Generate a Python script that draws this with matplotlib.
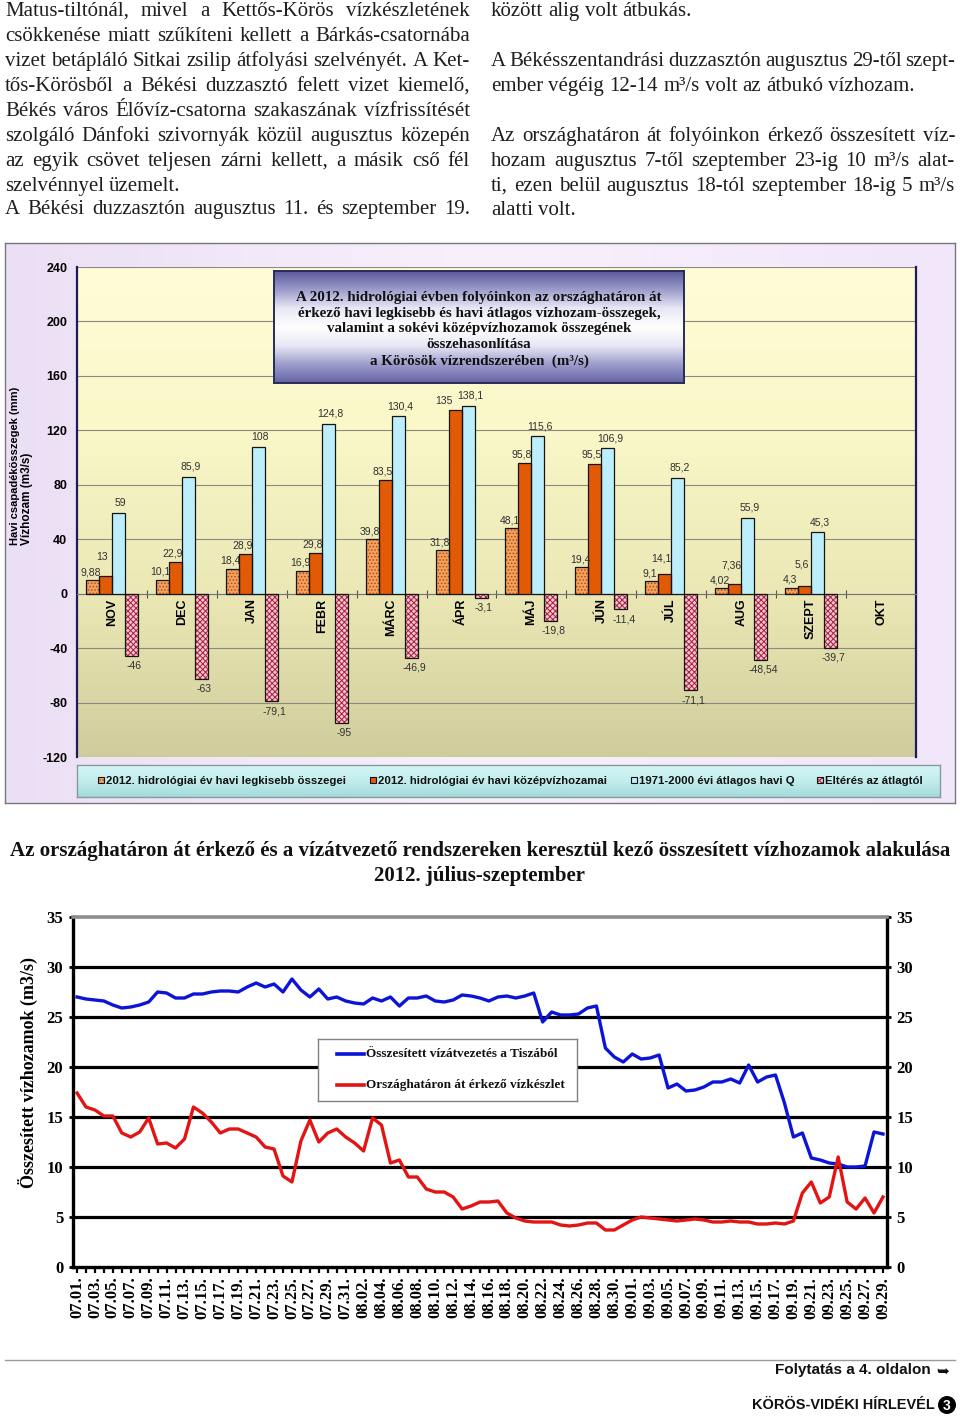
import numpy as np
import pandas as pd
import matplotlib
matplotlib.use('Agg')
import matplotlib.pyplot as plt
from matplotlib.colors import LinearSegmentedColormap
from matplotlib.patches import Rectangle, Ellipse
from matplotlib.lines import Line2D
from matplotlib import font_manager

plt.rcParams['hatch.linewidth'] = 0.7

# ---------------- data: bar chart ----------------
months = ['NOV', 'DEC', 'JAN', 'FEBR', 'MÁRC', 'ÁPR', 'MÁJ', 'JÚN', 'JÚL', 'AUG', 'SZEPT', 'OKT']
q_min = [9.88, 10.1, 18.4, 16.9, 39.8, 31.8, 48.1, 19.4, 9.1, 4.02, 4.3, np.nan]
q_mean = [13, 22.9, 28.9, 29.8, 83.5, 135, 95.8, 95.5, 14.1, 7.36, 5.6, np.nan]
q_avg = [59, 85.9, 108, 124.8, 130.4, 138.1, 115.6, 106.9, 85.2, 55.9, 45.3, np.nan]
q_dev = [-46, -63, -79.1, -95, -46.9, -3.1, -19.8, -11.4, -71.1, -48.54, -39.7, np.nan]
bar_series = ['2012. hidrológiai év havi legkisebb összegei',
              '2012. hidrológiai év havi középvízhozamai',
              '1971-2000 évi átlagos havi Q',
              'Eltérés az átlagtól']
bar_yticks = [240, 200, 160, 120, 80, 40, 0, -40, -80, -120]

# ---------------- data: line chart ----------------
day_labels = [d.strftime('%m.%d.') for d in pd.date_range('2012-07-01', '2012-09-29')]
transfer_tisza = [27.0, 26.8, 26.7, 26.6, 26.2, 25.9, 26.0, 26.2, 26.5, 27.5,
                  27.4, 26.9, 26.9, 27.3, 27.3, 27.5, 27.6, 27.6, 27.5, 28.0,
                  28.4, 28.0, 28.3, 27.5, 28.8, 27.7, 27.0, 27.8, 26.8, 27.0,
                  26.6, 26.4, 26.3, 26.9, 26.6, 27.0, 26.1, 26.9, 26.9, 27.1,
                  26.6, 26.5, 26.7, 27.2, 27.1, 26.9, 26.6, 27.0, 27.1, 26.9,
                  27.1, 27.4, 24.5, 25.5, 25.2, 25.2, 25.3, 25.9, 26.1, 21.9,
                  21.0, 20.5, 21.3, 20.8, 20.9, 21.2, 17.9, 18.3, 17.6, 17.7,
                  18.0, 18.5, 18.5, 18.8, 18.4, 20.2, 18.5, 19.0, 19.2, 16.4,
                  13.0, 13.4, 10.9, 10.7, 10.4, 10.3, 10.0, 10.0, 10.1, 13.5, 13.3]
border_inflow = [17.4, 16.0, 15.7, 15.1, 15.1, 13.4, 13.0, 13.5, 14.9, 12.3,
                 12.4, 11.9, 12.8, 16.0, 15.4, 14.5, 13.4, 13.8, 13.8, 13.4,
                 13.0, 12.0, 11.8, 9.1, 8.5, 12.6, 14.7, 12.5, 13.4, 13.8,
                 13.0, 12.4, 11.6, 14.9, 14.2, 10.4, 10.7, 9.0, 9.0, 7.8,
                 7.5, 7.5, 7.0, 5.8, 6.1, 6.5, 6.5, 6.6, 5.4, 4.9,
                 4.6, 4.5, 4.5, 4.5, 4.2, 4.1, 4.2, 4.4, 4.4, 3.7,
                 3.7, 4.2, 4.7, 5.0, 4.9, 4.8, 4.7, 4.6, 4.7, 4.8,
                 4.7, 4.5, 4.5, 4.6, 4.5, 4.5, 4.3, 4.3, 4.4, 4.3,
                 4.6, 7.4, 8.5, 6.4, 7.0, 11.0, 6.5, 5.8, 6.9, 5.4, 7.0]
line_series = ['Összesített vízátvezetés a Tiszából', 'Országhatáron át érkező vízkészlet']
line_yticks = [0, 5, 10, 15, 20, 25, 30, 35]

# ---------------- page text ----------------
left_col = [("Matus-tiltónál, mivel a Kettős-Körös vízkészletének", True),
            ("csökkenése miatt szűkíteni kellett a Bárkás-csatornába", True),
            ("vizet betápláló Sitkai zsilip átfolyási szelvényét. A Ket-", True),
            ("tős-Körösből a Békési duzzasztó felett vizet kiemelő,", True),
            ("Békés város Élővíz-csatorna szakaszának vízfrissítését", True),
            ("szolgáló Dánfoki szivornyák közül augusztus közepén", True),
            ("az egyik csövet teljesen zárni kellett, a másik cső fél", True),
            ("szelvénnyel üzemelt.", False),
            ("A Békési duzzasztón augusztus 11. és szeptember 19.", True)]
right_col = [("között alig volt átbukás.", False),
             ("A Békésszentandrási duzzasztón augusztus 29-től szept-", True),
             ("ember végéig 12-14 m³/s volt az átbukó vízhozam.", False),
             ("Az országhatáron át folyóinkon érkező összesített víz-", True),
             ("hozam augusztus 7-től szeptember 23-ig 10 m³/s alat-", True),
             ("ti, ezen belül augusztus 18-tól szeptember 18-ig 5 m³/s", True),
             ("alatti volt.", False)]
bar_title = ("A 2012. hidrológiai évben folyóinkon az országhatáron át\n"
             "érkező havi legkisebb és havi átlagos vízhozam-összegek,\n"
             "valamint a sokévi középvízhozamok összegének\n"
             "összehasonlítása\n"
             "a Körösök vízrendszerében  (m³/s)")
line_title1 = ("Az országhatáron át érkező és a vízátvezető rendszereken "
               "keresztül kező összesített vízhozamok alakulása")
line_title2 = "2012. július-szeptember"

# ---------------- figure helpers ----------------
W, H = 960, 1423
fig = plt.figure(figsize=(W / 100, H / 100), dpi=100)
fig.patch.set_facecolor('white')


def fx(x):
    return x / W


def fy(y):
    return 1 - y / H


def axrect(x0, y0, x1, y1):
    return [x0 / W, 1 - y1 / H, (x1 - x0) / W, (y1 - y0) / H]


names = {f.name for f in font_manager.fontManager.ttflist}
SERIF = 'Liberation Serif' if 'Liberation Serif' in names else 'DejaVu Serif'
SANS = 'Liberation Sans' if 'Liberation Sans' in names else 'DejaVu Sans'
TXT = '#1e1e1e'

renderer = fig.canvas.get_renderer()


def put_lines(lines, x0, x1, baselines, size=15):
    for (line, just), yb in zip(lines, baselines):
        words = line.split(' ')
        texts = [fig.text(0, fy(yb), w, fontsize=size, family=SERIF, color=TXT,
                          va='baseline', ha='left') for w in words]
        widths = [t.get_window_extent(renderer).width for t in texts]
        if just and len(words) > 1:
            gap = (x1 - x0 - sum(widths)) / (len(words) - 1)
        else:
            gap = size * 100 / 72 * 0.25
        x = x0
        for t, w in zip(texts, widths):
            t.set_x(fx(x))
            x += w + gap


put_lines(left_col, 5, 470, [16, 41, 66, 91, 116, 141, 166, 191, 214])
put_lines(right_col, 491, 955, [16, 66, 91, 141, 166, 191, 215])

# ---------------- bar chart ----------------
axf = fig.add_axes(axrect(5, 243, 955, 803))
frame_cmap = LinearSegmentedColormap.from_list('frame', ['#ebdff5', '#f8f1fc', '#f2e6fa'])
axf.imshow(np.linspace(0, 1, 256)[None, :], extent=[0, 1, 0, 1], aspect='auto', cmap=frame_cmap)
axf.set_xlim(0, 1)
axf.set_ylim(0, 1)
axf.set_xticks([])
axf.set_yticks([])
for s in axf.spines.values():
    s.set_color('#777777')
    s.set_linewidth(1.0)

ax1 = fig.add_axes(axrect(77, 267, 916, 757))
plot_cmap = LinearSegmentedColormap.from_list('plot', ['#d0cd9c', '#ebe8b6', '#faf7c8', '#fffdd8'])
ax1.imshow(np.linspace(0, 1, 256)[:, None], extent=[0, 12, -120, 240], origin='lower',
           aspect='auto', cmap=plot_cmap, zorder=0)
for v in bar_yticks:
    ax1.axhline(v, color='#8a8a80', lw=0.8, zorder=1)

xc = np.arange(len(months)) + 0.5
bw = 13 / 70
offs = (np.arange(4) - 1.5) * bw
styles = [dict(face='#f2a25c', hatch='.....', hcolor='#b84a10'),
          dict(face='#e35a06', hatch=None, hcolor=None),
          dict(face='#bdeefc', hatch=None, hcolor=None),
          dict(face='#f2c4cc', hatch='xxxxxx', hcolor='#a82040')]
series_vals = [q_min, q_mean, q_avg, q_dev]
for vals, off, st in zip(series_vals, offs, styles):
    v = np.array(vals, float)
    if st['hatch']:
        ax1.bar(xc + off, v, bw, color=st['face'], edgecolor=st['hcolor'], hatch=st['hatch'],
                linewidth=0, zorder=3)
    else:
        ax1.bar(xc + off, v, bw, color=st['face'], linewidth=0, zorder=3)
    ax1.bar(xc + off, v, bw, fill=False, edgecolor='#151515', linewidth=0.9, zorder=3.1)

PX = 490 / 360  # pixels per data unit


def fmt(v):
    return ('%g' % v).replace('.', ',')


def lab(xv, yv, s):
    ax1.text(xv, yv, s, fontsize=7.5, family=SANS, color='#303030', ha='center',
             va='center', zorder=6)


for i in range(len(months)):
    if np.isnan(q_min[i]):
        continue
    xb = xc[i] + offs
    y1 = q_min[i] + 8 / PX
    lab(xb[0] - 2 / 70, y1, fmt(q_min[i]))
    y2 = max(q_mean[i] + 9 / PX, y1 + 15 / PX)
    y3 = q_avg[i] + 10 / PX
    dx2 = -11 / 70 if abs(y3 - y2) * PX < 14 else -3 / 70
    lab(xb[1] + dx2, y2, fmt(q_mean[i]))
    lab(xb[2] + 2 / 70, y3, fmt(q_avg[i]))
    lab(xb[3] + 3 / 70, q_dev[i] - 10 / PX, fmt(q_dev[i]))

for xi, m in zip(xc, months):
    ax1.text(xi, -3.5, m, rotation=90, ha='center', va='top', fontsize=9,
             fontweight='bold', family=SANS, zorder=6)

ax1.set_xlim(0, 12)
ax1.set_ylim(-120, 240)
ax1.set_yticks(bar_yticks)
ax1.set_yticklabels([str(t) for t in bar_yticks], fontsize=9, fontweight='bold', family=SANS)
ax1.tick_params(axis='y', length=0, pad=7)
ax1.set_xticks(np.arange(13))
ax1.set_xticklabels([])
ax1.tick_params(axis='x', length=6, direction='inout', color='#555555', width=0.8)
ax1.spines['bottom'].set_position(('data', 0))
ax1.spines['bottom'].set_color('#777777')
ax1.spines['bottom'].set_linewidth(0.8)
ax1.spines['top'].set_visible(False)
for side in ('left', 'right'):
    ax1.spines[side].set_color('#1c1c5c')
    ax1.spines[side].set_linewidth(1.6)

fig.text(fx(15), fy(545), 'Havi csapadékösszegek (mm)', rotation=90, ha='center', va='bottom',
         fontsize=8, fontweight='bold', family=SANS)
fig.text(fx(27), fy(545), 'Vízhozam (m3/s)', rotation=90, ha='center', va='bottom',
         fontsize=8.5, fontweight='bold', family=SANS)

# title box
axt = fig.add_axes(axrect(274, 271, 684, 383), zorder=5)
title_cmap = LinearSegmentedColormap.from_list(
    't', ['#5a5a9a', '#9d9dcc', '#e8e8f6', '#ffffff', '#e8e8f6', '#9d9dcc', '#6464a6'])
axt.imshow(np.linspace(0, 1, 256)[:, None], extent=[0, 1, 0, 1], aspect='auto', cmap=title_cmap)
axt.set_xlim(0, 1)
axt.set_ylim(0, 1)
axt.set_xticks([])
axt.set_yticks([])
for s in axt.spines.values():
    s.set_color('#2a2a5a')
    s.set_linewidth(1.4)
axt.text(0.5, 0.48, bar_title, ha='center', va='center', fontsize=10.8, fontweight='bold',
         family=SERIF, linespacing=1.28, color='#111111')

# legend box (bar chart)
axl = fig.add_axes(axrect(77, 765, 940, 797), zorder=5)
leg_cmap = LinearSegmentedColormap.from_list('l', ['#a4dada', '#c2eded', '#d6f6f6'])
axl.imshow(np.linspace(0, 1, 256)[:, None], extent=[77, 940, 797, 765], origin='lower',
           aspect='auto', cmap=leg_cmap)
axl.set_xlim(77, 940)
axl.set_ylim(797, 765)
axl.set_xticks([])
axl.set_yticks([])
for s in axl.spines.values():
    s.set_color('#8a9a9a')
    s.set_linewidth(1.0)
leg_x = [98, 370, 631, 817]
for lx, name, st in zip(leg_x, bar_series, styles):
    if st['hatch']:
        axl.add_patch(Rectangle((lx, 777), 6, 6, facecolor=st['face'], edgecolor=st['hcolor'],
                                hatch=st['hatch'], linewidth=0))
    else:
        axl.add_patch(Rectangle((lx, 777), 6, 6, facecolor=st['face'], linewidth=0))
    axl.add_patch(Rectangle((lx, 777), 6, 6, fill=False, edgecolor='#111111', linewidth=0.8))
    axl.text(lx + 8, 780.5, name, ha='left', va='center', fontsize=8.2, fontweight='bold',
             family=SANS, color='#111111')

# ---------------- line chart ----------------
fig.text(fx(480), fy(851), line_title1, ha='center', va='center', fontsize=15,
         fontweight='bold', family=SERIF, color='#111111')
fig.text(fx(480), fy(876), line_title2, ha='center', va='center', fontsize=15,
         fontweight='bold', family=SERIF, color='#111111')

ax2 = fig.add_axes(axrect(73, 917, 887, 1267))
xd = np.arange(len(day_labels))
ax2.plot(xd, transfer_tisza, color='#0c14d6', lw=2.4, zorder=4, solid_joinstyle='round')
ax2.plot(xd, border_inflow, color='#e21414', lw=2.4, zorder=4, solid_joinstyle='round')
ax2.set_xlim(-0.45, len(xd) - 1 + 0.45)
ax2.set_ylim(0, 35)
for v in line_yticks[1:-1]:
    ax2.axhline(v, color='black', lw=2.3, zorder=2)
ax2.spines['top'].set_color('#8c8c8c')
ax2.spines['top'].set_linewidth(2.6)
for side in ('left', 'right', 'bottom'):
    ax2.spines[side].set_color('black')
    ax2.spines[side].set_linewidth(2.4)
ax2.set_yticks(line_yticks)
ax2.set_yticklabels([str(t) for t in line_yticks], fontsize=12, fontweight='bold', family=SERIF)
ax2.tick_params(axis='y', left=True, right=True, labelleft=True, labelright=True,
                direction='out', length=3, width=2, pad=4)
ax2.set_xticks(xd[::2])
ax2.set_xticklabels(day_labels[::2], rotation=90, fontsize=12, fontweight='bold', family=SERIF)
ax2.set_xticks(xd, minor=True)
ax2.tick_params(axis='x', which='both', direction='out', length=4, width=1.6, pad=3)

fig.text(fx(28), fy(1072), 'Összesített vízhozamok (m3/s)', rotation=90, ha='center',
         va='center', fontsize=13, fontweight='bold', family=SERIF)

axlg = fig.add_axes(axrect(318, 1039, 577, 1101), zorder=6)
axlg.set_xlim(318, 577)
axlg.set_ylim(1101, 1039)
axlg.set_xticks([])
axlg.set_yticks([])
for s in axlg.spines.values():
    s.set_color('#808080')
    s.set_linewidth(1.0)
for yy, name, col in zip([1054, 1085], line_series, ['#0c14d6', '#e21414']):
    axlg.plot([337, 364], [yy, yy], color=col, lw=2.6)
    axlg.text(366, yy, name, ha='left', va='center', fontsize=9.5, fontweight='bold',
              family=SERIF, color='#111111')

# ---------------- footer ----------------
fig.add_artist(Line2D([fx(5), fx(955)], [fy(1360), fy(1360)], transform=fig.transFigure,
                      color='#9a9a9a', lw=1.0))
fig.text(fx(931), fy(1370), 'Folytatás a 4. oldalon', ha='right', va='center', fontsize=11,
         fontweight='bold', family=SANS, color='#111111')
fig.text(fx(936), fy(1371), '➥', ha='left', va='center', fontsize=11, family='DejaVu Sans',
         color='#111111')
brand = fig.text(fx(935), fy(1405), 'KÖRÖS-VIDÉKI HÍRLEVÉL', ha='right', va='center',
                 fontsize=11, fontweight='bold', family=SANS, color='#111111')
bw_px = brand.get_window_extent(renderer).width
brand.set_fontsize(11 * 182 / bw_px)
fig.add_artist(Ellipse((fx(947), fy(1405)), 18 / W, 18 / H, transform=fig.transFigure,
                       facecolor='black', edgecolor='none'))
fig.text(fx(947), fy(1405.5), '3', ha='center', va='center', fontsize=10, fontweight='bold',
         family=SANS, color='white')

fig.savefig('out.png', dpi=100)
